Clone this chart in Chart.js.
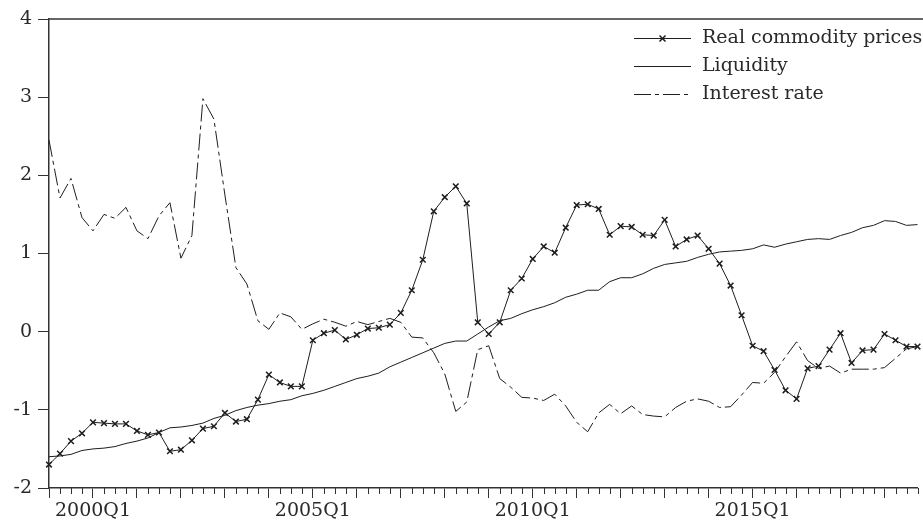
<!DOCTYPE html>
<html>
<head>
<meta charset="utf-8">
<script src="https://cdn.jsdelivr.net/npm/chart.js@4/dist/chart.umd.min.js"></script>
<style>
  html, body { margin: 0; padding: 0; background: #ffffff; }
  canvas { display: block; }
</style>
</head>
<body>
<canvas id="chart" width="923" height="522"></canvas>
<script>
// Quarterly sample 1999Q1 - 2018Q4
const firstYear = 1999;
const lastYear = 2018;
const quarters = [];
for (let y = firstYear; y <= lastYear; y++) {
  for (let q = 1; q <= 4; q++) quarters.push(y + 'Q' + q);
}
const labeledQuarters = ['2000Q1', '2005Q1', '2010Q1', '2015Q1'];
const yTickRange = [-2, 4];

const seriesNames = ['Real commodity prices', 'Liquidity', 'Interest rate'];

const commodityPrices = [
  -1.70, -1.56, -1.40, -1.30, -1.16, -1.17, -1.18, -1.18,
  -1.27, -1.32, -1.29, -1.53, -1.51, -1.39, -1.24, -1.21,
  -1.04, -1.15, -1.12, -0.87, -0.55, -0.65, -0.70, -0.70,
  -0.11, -0.02, 0.02, -0.10, -0.04, 0.04, 0.05, 0.09,
  0.24, 0.53, 0.92, 1.54, 1.72, 1.86, 1.64, 0.12,
  -0.03, 0.12, 0.53, 0.68, 0.93, 1.09, 1.01, 1.33,
  1.62, 1.63, 1.57, 1.24, 1.35, 1.34, 1.24, 1.23,
  1.43, 1.09, 1.18, 1.23, 1.06, 0.87, 0.59, 0.21,
  -0.18, -0.25, -0.49, -0.75, -0.86, -0.47, -0.44, -0.23,
  -0.02, -0.40, -0.24, -0.23, -0.03, -0.11, -0.19, -0.19
];

const liquidity = [
  -1.60, -1.59, -1.57, -1.52, -1.50, -1.49, -1.47, -1.43,
  -1.40, -1.36, -1.29, -1.23, -1.22, -1.20, -1.17, -1.11,
  -1.07, -1.01, -0.97, -0.94, -0.92, -0.89, -0.87, -0.82,
  -0.79, -0.75, -0.70, -0.65, -0.60, -0.57, -0.53, -0.45,
  -0.39, -0.33, -0.27, -0.21, -0.15, -0.12, -0.12, -0.03,
  0.06, 0.14, 0.17, 0.23, 0.28, 0.32, 0.37, 0.44,
  0.48, 0.53, 0.53, 0.64, 0.69, 0.69, 0.74, 0.81,
  0.86, 0.88, 0.90, 0.95, 0.99, 1.02, 1.03, 1.04,
  1.06, 1.11, 1.08, 1.12, 1.15, 1.18, 1.19, 1.18,
  1.23, 1.27, 1.33, 1.36, 1.42, 1.41, 1.36, 1.37
];

const interestRate = [
  2.45, 1.71, 1.96, 1.46, 1.29, 1.50, 1.45, 1.59,
  1.29, 1.19, 1.48, 1.65, 0.94, 1.23, 2.98, 2.72,
  1.75, 0.82, 0.61, 0.14, 0.03, 0.24, 0.19, 0.03,
  0.10, 0.16, 0.12, 0.07, 0.13, 0.09, 0.13, 0.17,
  0.12, -0.07, -0.08, -0.27, -0.54, -1.02, -0.90, -0.23,
  -0.18, -0.60, -0.71, -0.84, -0.85, -0.88, -0.80, -0.95,
  -1.16, -1.28, -1.04, -0.93, -1.05, -0.95, -1.06, -1.08,
  -1.09, -0.97, -0.89, -0.86, -0.89, -0.97, -0.96, -0.81,
  -0.65, -0.66, -0.52, -0.32, -0.13, -0.37, -0.47, -0.44,
  -0.53, -0.48, -0.48, -0.48, -0.46, -0.34, -0.22, -0.19
];

const inkColor = '#1e1e1e';
const axisColor = '#333333';
const textColor = '#2a2a2a';
const fontFamily = '"DejaVu Serif", "Liberation Serif", serif';
const fontSize = 19;
const dashPattern = [17, 4, 4, 4];

// Frame top edge, minor quarter ticks and the line-sample legend
const framePlugin = {
  id: 'frameAndLegend',
  afterDraw(chart) {
    const { ctx, chartArea: a, scales } = chart;
    const x = scales.x;
    ctx.save();
    ctx.strokeStyle = axisColor;
    ctx.lineWidth = 1.5;
    ctx.beginPath();
    ctx.moveTo(a.left, a.top);
    ctx.lineTo(chart.width, a.top);
    ctx.stroke();

    ctx.lineWidth = 1;
    ctx.beginPath();
    quarters.forEach((q, i) => {
      if (q.endsWith('Q1')) return;
      const px = Math.round(x.getPixelForValue(i)) + 0.5;
      ctx.moveTo(px, a.bottom);
      ctx.lineTo(px, a.bottom + 6);
    });
    ctx.stroke();

    // legend
    const sampleLeft = 634, sampleRight = 691, textLeft = 702;
    const rows = [38, 66, 94];
    chart.data.datasets.forEach((ds, k) => {
      const yy = rows[k] + 0.5;
      ctx.strokeStyle = ds.borderColor;
      ctx.lineWidth = ds.borderWidth;
      ctx.setLineDash(ds.borderDash || []);
      ctx.beginPath();
      ctx.moveTo(sampleLeft, yy);
      ctx.lineTo(sampleRight, yy);
      ctx.stroke();
      ctx.setLineDash([]);
      if (ds.pointRadius > 0) {
        const cx = (sampleLeft + sampleRight) / 2, r = 3;
        ctx.lineWidth = ds.pointBorderWidth;
        ctx.beginPath();
        ctx.moveTo(cx - r, yy - r); ctx.lineTo(cx + r, yy + r);
        ctx.moveTo(cx - r, yy + r); ctx.lineTo(cx + r, yy - r);
        ctx.stroke();
      }
      ctx.fillStyle = textColor;
      ctx.font = fontSize + 'px ' + fontFamily;
      ctx.textBaseline = 'middle';
      ctx.textAlign = 'left';
      ctx.fillText(ds.label, textLeft, rows[k]);
    });
    ctx.restore();
  }
};

new Chart(document.getElementById('chart'), {
  type: 'line',
  data: {
    labels: quarters,
    datasets: [
      {
        label: seriesNames[0],
        data: commodityPrices,
        borderColor: inkColor,
        borderWidth: 1,
        pointStyle: 'crossRot',
        pointRadius: 4,
        pointBorderWidth: 1.5,
        pointBorderColor: inkColor,
        tension: 0
      },
      {
        label: seriesNames[1],
        data: liquidity,
        borderColor: inkColor,
        borderWidth: 1,
        pointRadius: 0,
        tension: 0
      },
      {
        label: seriesNames[2],
        data: interestRate,
        borderColor: inkColor,
        borderWidth: 1,
        borderDash: dashPattern,
        pointRadius: 0,
        tension: 0
      }
    ]
  },
  options: {
    responsive: false,
    animation: false,
    layout: { padding: { top: 19, right: 1, left: 0, bottom: 0 } },
    plugins: {
      legend: { display: false },
      tooltip: { enabled: false }
    },
    scales: {
      x: {
        type: 'category',
        offset: false,
        border: { display: true, color: axisColor, width: 1.5 },
        grid: {
          drawOnChartArea: false,
          drawTicks: true,
          tickLength: 10,
          lineWidth: 1,
          color: (c) => (quarters[c.index] && quarters[c.index].endsWith('Q1')) ? axisColor : 'rgba(0,0,0,0)'
        },
        ticks: {
          autoSkip: false,
          maxRotation: 0,
          minRotation: 0,
          padding: 2,
          color: textColor,
          font: { family: fontFamily, size: fontSize },
          callback: (v, i) => labeledQuarters.includes(quarters[i]) ? quarters[i] : ''
        },
        afterFit: (s) => { s.height = 34; }
      },
      y: {
        min: yTickRange[0],
        max: yTickRange[1],
        border: { display: true, color: axisColor, width: 1.5 },
        grid: {
          drawOnChartArea: false,
          drawTicks: true,
          tickLength: 11,
          color: axisColor,
          lineWidth: 1
        },
        ticks: {
          stepSize: 1,
          padding: 6,
          color: textColor,
          font: { family: fontFamily, size: fontSize }
        },
        afterFit: (s) => { s.width = 49; }
      }
    }
  },
  plugins: [framePlugin]
});
</script>
</body>
</html>
